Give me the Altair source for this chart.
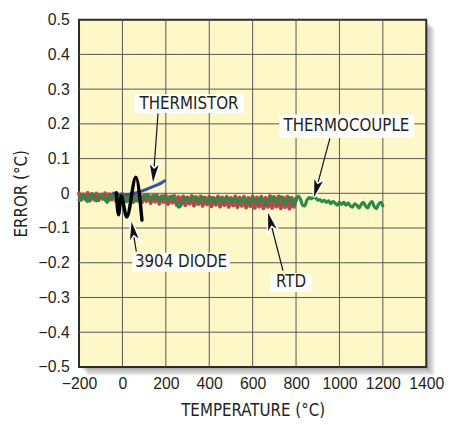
import math
import altair as alt
import pandas as pd

# ---------------- data ----------------
rtd_x = list(range(-200, 801, 10))
rtd_y = [0.000, -0.019, -0.003, -0.017, 0.001, -0.021, -0.002, -0.018, -0.001, -0.020, -0.004,
         -0.016, 0.000, -0.021, -0.003, -0.018, -0.001, -0.022, -0.004, -0.017, -0.002,
         -0.023, -0.005, -0.020, -0.003, -0.025, -0.006, -0.021, -0.004, -0.026, -0.007,
         -0.022, -0.005, -0.028, -0.008, -0.024, -0.006, -0.030, -0.009, -0.025, -0.007,
         -0.031, -0.010, -0.027, -0.008, -0.033, -0.011, -0.029, -0.009, -0.034, -0.012,
         -0.030, -0.008, -0.035, -0.011, -0.031, -0.009, -0.036, -0.012, -0.032, -0.010,
         -0.037, -0.013, -0.033, -0.009, -0.038, -0.012, -0.034, -0.010, -0.039, -0.013,
         -0.035, -0.009, -0.040, -0.012, -0.036, -0.010, -0.041, -0.013, -0.037, -0.009,
         -0.042, -0.012, -0.038, -0.010, -0.043, -0.013, -0.039, -0.008, -0.042, -0.011,
         -0.038, -0.009, -0.043, -0.012, -0.040, -0.010, -0.044, -0.013, -0.039, -0.015]

tc_x = list(range(-200, 1201, 10))
tc_y = [-0.020, -0.008, -0.004, -0.016, -0.024, -0.012, -0.002, -0.010, -0.022, -0.014, -0.004,
        -0.006, -0.018, -0.026, -0.014, -0.003, -0.008, -0.020, -0.012, -0.002, -0.004,
        -0.016, -0.024, -0.010, -0.003, -0.014, -0.022, -0.009, -0.004, -0.018, -0.012,
        -0.005, -0.010, -0.020, -0.013, -0.006, -0.016, -0.021, -0.011, -0.007, -0.015,
        -0.020, -0.012, -0.008, -0.018, -0.030, -0.040, -0.034, -0.020, -0.012, -0.016,
        -0.022, -0.014, -0.010, -0.019, -0.026, -0.016, -0.011, -0.020, -0.027, -0.017,
        -0.012, -0.022, -0.028, -0.018, -0.013, -0.024, -0.020, -0.012, -0.018, -0.027,
        -0.019, -0.012, -0.021, -0.029, -0.018, -0.013, -0.024, -0.030, -0.020, -0.014,
        -0.022, -0.028, -0.017, -0.012, -0.021, -0.030, -0.022, -0.014, -0.010, -0.020,
        -0.028, -0.016, -0.010, -0.022, -0.030, -0.018, -0.012, -0.024, -0.032, -0.020,
        -0.008, -0.016, -0.034, -0.036, -0.020, -0.012, -0.016, -0.011, -0.013, -0.020,
        -0.018, -0.024, -0.020, -0.026, -0.022, -0.030, -0.024, -0.028, -0.034, -0.026,
        -0.032, -0.026, -0.034, -0.028, -0.036, -0.040, -0.030, -0.034, -0.042, -0.032,
        -0.026, -0.036, -0.042, -0.030, -0.024, -0.038, -0.044, -0.032, -0.026, -0.036]

thermistor_x = [-40, -20, 0, 20, 40, 60, 80, 100, 120, 140, 160, 180, 195]
thermistor_y = [0.000, -0.003, -0.004, -0.004, -0.002, 0.001, 0.005, 0.009, 0.014, 0.019, 0.024, 0.030, 0.036]

diode_x = [-28, -18, -6, 20, 62, 90]
diode_y = [0.002, -0.062, -0.008, -0.068, 0.046, -0.077]

x_ticks = [-200, 0, 200, 400, 600, 800, 1000, 1200, 1400]
y_ticks = [-0.5, -0.4, -0.3, -0.2, -0.1, 0.0, 0.1, 0.2, 0.3, 0.4, 0.5]

labels = ["THERMISTOR", "THERMOCOUPLE", "3904 DIODE", "RTD"]
label_x = [307, 1032, 270, 777]
label_y = [0.258, 0.193, -0.199, -0.257]
box_x1 = [55, 723, 45, 682]
box_x2 = [560, 1345, 495, 873]
box_y1 = [0.231, 0.159, -0.171, -0.230]
box_y2 = [0.285, 0.227, -0.226, -0.284]
arrow_x1 = [164, 956, 64, 740]
arrow_y1 = [0.230, 0.158, -0.168, -0.223]
arrow_x2 = [141, 883, 42, 671]
arrow_y2 = [0.032, -0.011, -0.082, -0.056]

# ---------------- build ----------------
W, H = 352, 352
XMIN, XMAX, YMIN, YMAX = -200, 1400, -0.5, 0.5
PX = (XMAX - XMIN) / W     # data units per pixel, x
PY = (YMAX - YMIN) / H     # data units per pixel, y
FONT_T = "DejaVu Sans Condensed"

ann = pd.DataFrame(dict(label=labels, tx=label_x, ty=label_y,
                        bx1=box_x1, bx2=box_x2, by1=box_y1, by2=box_y2,
                        ax1=arrow_x1, ay1=arrow_y1, ax2=arrow_x2, ay2=arrow_y2))
angles = []
for x1, y1, x2, y2 in zip(arrow_x1, arrow_y1, arrow_x2, arrow_y2):
    dx = (x2 - x1) / PX
    dy = -(y2 - y1) / PY
    angles.append(math.degrees(math.atan2(dx, -dy)) % 360)
ann["ang"] = angles

xs = alt.Scale(domain=[XMIN, XMAX], nice=False, zero=False)
ys = alt.Scale(domain=[YMIN, YMAX], nice=False, zero=False)

xaxis = alt.Axis(title="TEMPERATURE (°C)", values=x_ticks, format="d",
                 ticks=False, domain=False, labelPadding=9, grid=False,
                 titleX=W / 2, titleY=44, titleBaseline="middle", labelFlush=False)
yaxis = alt.Axis(title="ERROR (°C)", values=y_ticks,
                 format=".1~f", ticks=False, domain=False, labelPadding=10, grid=False,
                 titleX=-58, titleY=H / 2, titleBaseline="middle", titleAngle=-90)


def X(f):
    return alt.X(f, type="quantitative", scale=xs, axis=xaxis)


def Y(f):
    return alt.Y(f, type="quantitative", scale=ys, axis=yaxis)


# drop shadow + plot background
shadow = pd.DataFrame({
    "x1": [XMIN + d * PX for d in range(1, 10)],
    "x2": [XMAX + d * PX for d in range(1, 10)],
    "y1": [YMIN - d * PY for d in range(1, 10)],
    "y2": [YMAX - d * PY for d in range(1, 10)],
})
shadow_l = alt.Chart(shadow).mark_rect(fill="#000000", opacity=0.045).encode(
    x=X("x1"), x2="x2", y=Y("y1"), y2="y2")
bg = alt.Chart(pd.DataFrame({"x1": [XMIN], "x2": [XMAX], "y1": [YMIN], "y2": [YMAX]})).mark_rect(
    fill="#fef8c9", stroke="#2b2b2b", strokeWidth=2).encode(
    x=X("x1"), x2="x2", y=Y("y1"), y2="y2")
vgrid = alt.Chart(pd.DataFrame({"g": x_ticks[1:-1]})).mark_rule(
    color="#555555", strokeWidth=1).encode(x=X("g"))
hgrid = alt.Chart(pd.DataFrame({"g": y_ticks[1:-1]})).mark_rule(
    color="#555555", strokeWidth=1).encode(y=Y("g"))


def line(xv, yv, color, width, interp="linear"):
    df = pd.DataFrame({"x": xv, "y": yv})
    return alt.Chart(df).mark_line(color=color, strokeWidth=width, interpolate=interp,
                                   strokeJoin="round", strokeCap="round").encode(
        x=X("x"), y=Y("y"))


rtd = line(rtd_x, rtd_y, "#b34a4c", 4)
tc = line(tc_x, tc_y, "#2b8a45", 3.2, "monotone")
thermistor = line(thermistor_x, thermistor_y, "#3552a8", 3, "monotone")
diode = line(diode_x, diode_y, "#000000", 3.5, "monotone")

base = alt.Chart(ann)
boxes = base.mark_rect(fill="white").encode(x=X("bx1"), x2="bx2", y=Y("by1"), y2="by2")
texts = base.mark_text(font=FONT_T, fontSize=17, color="#231f20",
                       baseline="middle", align="center").encode(
    x=X("tx"), y=Y("ty"), text="label:N")
rules = base.mark_rule(color="#111111", strokeWidth=1.2).encode(
    x=X("ax1"), x2="ax2", y=Y("ay1"), y2="ay2")
head_path = "M0,0L0.5,2L0,1.5L-0.5,2Z"
heads_halo = base.mark_point(shape=head_path, filled=True, fill="white", stroke="white",
                             strokeWidth=3, size=320, opacity=1).encode(
    x=X("ax2"), y=Y("ay2"), angle=alt.Angle("ang:Q", scale=None))
heads = base.mark_point(shape=head_path, filled=True, fill="#111111", strokeWidth=0,
                        size=320, opacity=1).encode(
    x=X("ax2"), y=Y("ay2"), angle=alt.Angle("ang:Q", scale=None))

chart = alt.layer(shadow_l, bg, vgrid, hgrid, rtd, tc, thermistor, diode,
                  rules, heads_halo, heads, boxes, texts).properties(
    width=W, height=H, autosize="none",
    padding={"left": 72, "top": 9, "right": 19, "bottom": 54},
).configure_view(
    stroke=None, fill=None
).configure_axis(
    labelFont="Liberation Sans", labelFontSize=16, labelColor="#231f20",
    titleFont=FONT_T, titleFontSize=17, titleFontWeight="normal",
    titleColor="#231f20",
)

chart.save("out.html", embed_options={"renderer": "svg", "actions": False})
